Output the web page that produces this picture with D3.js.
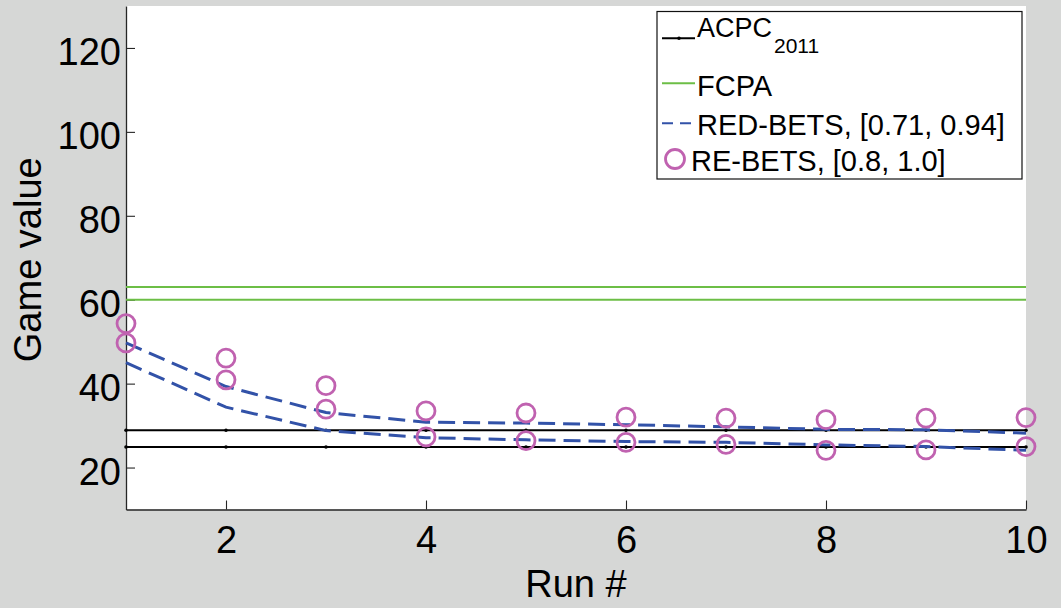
<!DOCTYPE html>
<html>
<head>
<meta charset="utf-8">
<script src="https://cdn.jsdelivr.net/npm/d3@7"></script>
<style>
  html, body { margin: 0; padding: 0; background: #d6d7d6; }
  svg { display: block; }
  text { font-family: "Liberation Sans", Arial, Helvetica, sans-serif; fill: #000; }
</style>
</head>
<body>
<svg id="chart" width="1061" height="608"></svg>
<script>
// Game value per run for each strategy
const runs = [1, 2, 3, 4, 5, 6, 7, 8, 9, 10];
const acpcUpper = [28.9, 28.9, 28.9, 28.9, 28.9, 28.9, 28.9, 28.9, 28.9, 28.9];
const acpcLower = [24.9, 24.9, 24.9, 24.9, 24.9, 24.9, 24.9, 24.9, 24.9, 24.9];
const fcpaUpper = [63.0, 63.0, 63.0, 63.0, 63.0, 63.0, 63.0, 63.0, 63.0, 63.0];
const fcpaLower = [60.0, 60.0, 60.0, 60.0, 60.0, 60.0, 60.0, 60.0, 60.0, 60.0];
const redBetsUpper = [49.7, 39.3, 33.1, 30.8, 30.6, 30.2, 29.7, 29.1, 29.0, 28.2];
const redBetsLower = [45.0, 34.4, 28.8, 27.1, 26.6, 26.2, 26.0, 25.4, 25.0, 24.1];
const reBetsUpper = [54.3, 46.1, 39.5, 33.5, 33.0, 32.0, 31.8, 31.4, 31.8, 31.9];
const reBetsLower = [49.7, 40.9, 33.9, 27.3, 26.4, 26.0, 25.5, 24.1, 24.2, 25.0];

const xTicks = [2, 4, 6, 8, 10];
const yTicks = [20, 40, 60, 80, 100, 120];

const legendLabels = ["ACPC", "FCPA", "RED-BETS, [0.71, 0.94]", "RE-BETS, [0.8, 1.0]"];
const legendSub = "2011";

const colors = {
  acpc: "#000000",
  fcpa: "#6cbe46",
  red: "#3252a8",
  re: "#c062b0",
  axis: "#262626"
};

const svg = d3.select("#chart");
const plot = { left: 126, right: 1026, top: 6, bottom: 509.5 };

const x = d3.scaleLinear().domain([1, 10]).range([plot.left, plot.right]);
const y = d3.scaleLinear().domain([10, 130]).range([plot.bottom, plot.top]);

// plot background
svg.append("rect")
  .attr("x", plot.left).attr("y", plot.top)
  .attr("width", plot.right - plot.left).attr("height", plot.bottom - plot.top)
  .attr("fill", "#fff");

// axes with inward ticks
const yAxis = d3.axisLeft(y).tickValues(yTicks).tickSizeInner(-9).tickSizeOuter(0).tickPadding(5);
const xAxis = d3.axisBottom(x).tickValues(xTicks).tickSizeInner(-9).tickSizeOuter(0).tickPadding(5);

const gy = svg.append("g").attr("transform", `translate(${plot.left},0)`).call(yAxis);
const gx = svg.append("g").attr("transform", `translate(0,${plot.bottom})`).call(xAxis);

[gx, gy].forEach(g => {
  g.select(".domain").attr("stroke", colors.axis).attr("stroke-width", 1.3);
  g.selectAll(".tick line").attr("stroke", colors.axis).attr("stroke-width", 1.1);
  g.selectAll(".tick text")
    .style("font-family", '"Liberation Sans", Arial, sans-serif')
    .attr("font-size", 38).attr("fill", "#000");
});
gy.selectAll(".tick text").attr("x", -5).attr("dy", "0.44em");
gx.selectAll(".tick text").attr("y", 43).attr("dy", 0);

// axis titles
svg.append("text")
  .attr("x", (plot.left + plot.right) / 2).attr("y", 597)
  .attr("text-anchor", "middle").attr("font-size", 38)
  .text("Run #");
svg.append("text")
  .attr("transform", `translate(41,${(plot.top + plot.bottom) / 2 + 2}) rotate(-90)`)
  .attr("text-anchor", "middle").attr("font-size", 38)
  .text("Game value");

const line = d3.line().x((d, i) => x(runs[i])).y(d => y(d));

// ACPC 2011 reference lines with point markers
[acpcUpper, acpcLower].forEach(series => {
  svg.append("path").datum(series)
    .attr("d", line).attr("fill", "none")
    .attr("stroke", colors.acpc).attr("stroke-width", 2);
  svg.append("g").selectAll("circle").data(series).join("circle")
    .attr("cx", (d, i) => x(runs[i])).attr("cy", d => y(d))
    .attr("r", 1.8).attr("fill", colors.acpc);
});

// FCPA
[fcpaUpper, fcpaLower].forEach(series => {
  svg.append("path").datum(series)
    .attr("d", line).attr("fill", "none")
    .attr("stroke", colors.fcpa).attr("stroke-width", 2);
});

// RED-BETS dashed bounds
[redBetsUpper, redBetsLower].forEach(series => {
  svg.append("path").datum(series)
    .attr("d", line).attr("fill", "none")
    .attr("stroke", colors.red).attr("stroke-width", 3)
    .attr("stroke-dasharray", "17,8");
});

// RE-BETS circles
[reBetsUpper, reBetsLower].forEach(series => {
  svg.append("g").selectAll("circle").data(series).join("circle")
    .attr("cx", (d, i) => x(runs[i])).attr("cy", d => y(d))
    .attr("r", 9).attr("fill", "none")
    .attr("stroke", colors.re).attr("stroke-width", 2.8);
});

// legend
const lg = svg.append("g");
lg.append("rect")
  .attr("x", 657).attr("y", 11.5).attr("width", 365).attr("height", 167.5)
  .attr("fill", "#fff").attr("stroke", "#111").attr("stroke-width", 1.2);

// ACPC entry
lg.append("line").attr("x1", 662).attr("x2", 695).attr("y1", 38.3).attr("y2", 38.3)
  .attr("stroke", colors.acpc).attr("stroke-width", 2);
lg.append("circle").attr("cx", 679).attr("cy", 38.3).attr("r", 1.8).attr("fill", colors.acpc);
const acpcText = lg.append("text").attr("x", 697).attr("y", 37.3).attr("font-size", 27);
acpcText.append("tspan").text(legendLabels[0]);
acpcText.append("tspan").attr("font-size", 21).attr("dy", 16).attr("dx", 2).text(legendSub);

// FCPA entry
lg.append("line").attr("x1", 662).attr("x2", 695).attr("y1", 83.3).attr("y2", 83.3)
  .attr("stroke", colors.fcpa).attr("stroke-width", 2);
lg.append("text").attr("x", 697).attr("y", 95.7).attr("font-size", 29).text(legendLabels[1]);

// RED-BETS entry
lg.append("line").attr("x1", 662).attr("x2", 695).attr("y1", 123.3).attr("y2", 123.3)
  .attr("stroke", colors.red).attr("stroke-width", 2)
  .attr("stroke-dasharray", "11,7");
lg.append("text").attr("x", 697).attr("y", 135).attr("font-size", 29).text(legendLabels[2]);

// RE-BETS entry
lg.append("circle").attr("cx", 675).attr("cy", 159).attr("r", 9.5)
  .attr("fill", "none").attr("stroke", colors.re).attr("stroke-width", 2.8);
lg.append("text").attr("x", 691).attr("y", 170.5).attr("font-size", 29).text(legendLabels[3]);
</script>
</body>
</html>
